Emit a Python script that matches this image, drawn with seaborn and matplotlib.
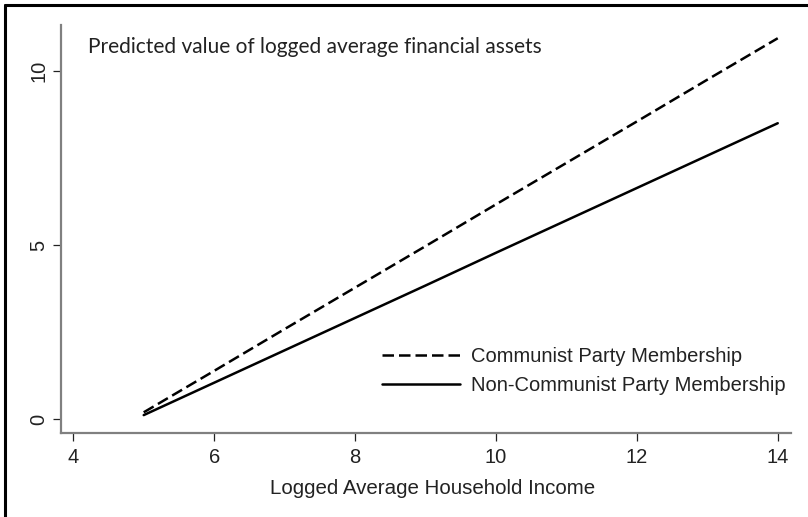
import numpy as np
import pandas as pd
import matplotlib
matplotlib.use("Agg")
import matplotlib.pyplot as plt
from matplotlib.lines import Line2D
import seaborn as sns

# Data
income = [5, 6, 7, 8, 9, 10, 11, 12, 13, 14]
communist = [0.20, 1.39, 2.59, 3.78, 4.97, 6.17, 7.36, 8.55, 9.75, 10.94]
non_communist = [0.12, 1.05, 1.98, 2.91, 3.84, 4.78, 5.71, 6.64, 7.57, 8.50]
series_names = ["Communist Party Membership", "Non-Communist Party Membership"]
x_ticks = [4, 6, 8, 10, 12, 14]
y_ticks = [0, 5, 10]
title_text = "Predicted value of logged average financial assets"
x_label = "Logged Average Household Income"

df = pd.DataFrame({
    "income": income + income,
    "value": communist + non_communist,
    "group": [series_names[0]] * len(income) + [series_names[1]] * len(income),
})

sns.set_theme(style="white")
SANS = ["Liberation Sans", "DejaVu Sans"]
plt.rcParams["font.family"] = SANS

fig = plt.figure(figsize=(8.08, 5.17), dpi=100)
ax = fig.add_axes([61 / 808, 1 - 432.7 / 517, (790.7 - 61) / 808, (432.7 - 25) / 517])

sns.lineplot(
    data=df, x="income", y="value", style="group",
    style_order=series_names,
    dashes={series_names[0]: (4.6, 2.0), series_names[1]: ""},
    color="black", linewidth=1.8, ax=ax, legend=True,
)

ax.set_xlim(3.826, 14.184)
ax.set_ylim(-0.385, 11.32)
ax.set_xticks(x_ticks)
ax.set_yticks(y_ticks)
ax.set_xticklabels([str(t) for t in x_ticks], fontsize=14.5, color="#222222", family=SANS)
ax.set_yticklabels([str(t) for t in y_ticks], fontsize=14.5, color="#222222", family=SANS,
                   rotation=90, va="center")
ax.set_xlabel(x_label, fontsize=14.8, color="#222222", family=SANS)
ax.xaxis.set_label_coords((432.5 - 61) / (790.7 - 61), -(488 - 432.7) / (432.7 - 25))
ax.xaxis.label.set_va("center")
ax.set_ylabel("")

for s in ["top", "right"]:
    ax.spines[s].set_visible(False)
for s in ["left", "bottom"]:
    ax.spines[s].set_color("#808080")
    ax.spines[s].set_linewidth(1.6)

ax.tick_params(axis="both", which="major", direction="out", length=5.8,
               width=0.9, color="#222222", bottom=True, left=True)
ax.tick_params(axis="x", pad=5)
ax.tick_params(axis="y", pad=3.5)

handles, labels = ax.get_legend_handles_labels()
leg = ax.legend(handles, labels, frameon=False, loc="center left",
                bbox_to_anchor=((381.7 - 61) / (790.7 - 61), (432.7 - 371) / (432.7 - 25)),
                prop={"family": SANS, "size": 14.5}, handlelength=3.9, handletextpad=0.55,
                labelspacing=0.48, borderaxespad=0, borderpad=0)
for t in leg.get_texts():
    t.set_color("#222222")
for h in leg.get_lines():
    h.set_linewidth(1.8)

fig.text(88 / 808, 1 - 53 / 517, title_text, fontsize=15.0, family=["Lato", "DejaVu Sans"],
         color="#222222", ha="left", va="baseline")

# Figure frame: top and left only
fig.add_artist(Line2D([5.3 / 808, 1.0], [1 - 5.3 / 517, 1 - 5.3 / 517],
                      transform=fig.transFigure, color="black", linewidth=2.2))
fig.add_artist(Line2D([5.3 / 808, 5.3 / 808], [1 - 5.3 / 517, 0.0],
                      transform=fig.transFigure, color="black", linewidth=2.2))

fig.savefig("out.png", dpi=100)
